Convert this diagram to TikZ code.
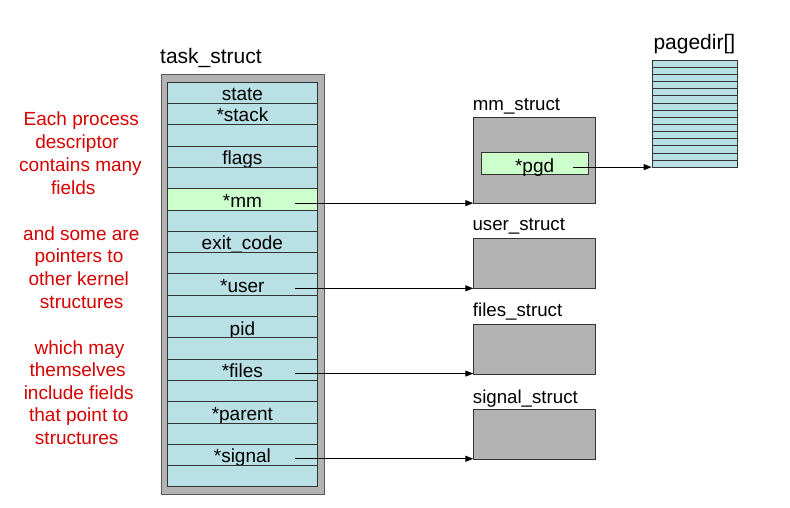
\documentclass[tikz,border=0pt]{standalone}
\usepackage{fontspec}
\setmainfont{Liberation Sans}
\usetikzlibrary{arrows.meta,calc}
\definecolor{rowblue}{RGB}{185,224,228}
\definecolor{boxgray}{RGB}{179,179,179}
\definecolor{fieldgreen}{RGB}{204,255,204}
\definecolor{txtred}{RGB}{214,0,0}
\definecolor{edge}{RGB}{51,51,51}
\begin{document}
\begin{tikzpicture}[x=1pt,y=-1pt,
  rowbox/.style={draw=edge, line width=0.8pt, minimum width=149.4pt, minimum height=21.3pt,
    inner sep=0pt, text height=15.9pt, text depth=0pt, font=\fontsize{19}{22}\selectfont, anchor=north west},
  graybox/.style={draw=edge, line width=0.8pt, fill=boxgray, inner sep=0pt, anchor=north west},
  title/.style={inner sep=0pt, anchor=base west, font=\fontsize{18.7}{22}\selectfont},
  bigtitle/.style={inner sep=0pt, anchor=base west, font=\fontsize{21}{24}\selectfont},
  note/.style={inner sep=0pt, anchor=base, text=txtred, font=\fontsize{19}{22}\selectfont},
  ptr/.style={draw=black, line width=0.9pt, -{Triangle[length=8pt,width=6pt]}}
]
\useasboundingbox (0,0) rectangle (790,508);

% task_struct
\node[bigtitle] (tasklabel) at (160,63.3) {task\_struct};
\node[graybox, draw=black!65, minimum width=163.3pt, minimum height=420pt] (task) at (160.7,74) {};
\foreach \lab/\col [count=\i from 0] in {state/rowblue, *stack/rowblue, /rowblue, flags/rowblue, /rowblue,
  *mm/fieldgreen, /rowblue, exit\_code/rowblue, /rowblue, *user/rowblue, /rowblue, pid/rowblue, /rowblue,
  *files/rowblue, /rowblue, *parent/rowblue, /rowblue, *signal/rowblue, /rowblue}
  \node[rowbox, fill=\col] (r\i) at ({167.3},{81.7+21.3*\i}) {\lab};

% mm_struct
\node[title] (mmlabel) at (472.7,110.7) {mm\_struct};
\node[graybox, minimum width=121.7pt, minimum height=85.7pt] (mm) at (473.3,117) {};
\node[rowbox, fill=fieldgreen, minimum width=107pt, minimum height=22pt, text height=16.8pt] (pgd) at (480.7,152.3) {*pgd};

% other structs
\node[title] (userlabel) at (472.3,230.7) {user\_struct};
\node[graybox, minimum width=121.7pt, minimum height=50pt] (user) at (473.3,238.3) {};
\node[title] (fileslabel) at (472.7,316.7) {files\_struct};
\node[graybox, minimum width=121.7pt, minimum height=50pt] (files) at (473.3,324) {};
\node[title] (signallabel) at (472.7,403.3) {signal\_struct};
\node[graybox, minimum width=121.7pt, minimum height=50pt] (signal) at (473.3,409.3) {};

% pagedir
\node[bigtitle] (pdlabel) at (653.3,50) {pagedir[]};
\node[draw=edge, line width=0.8pt, fill=rowblue, inner sep=0pt, anchor=north west,
  minimum width=85.6pt, minimum height=107.3pt] (pd) at (651.7,60) {};
\foreach \k in {1,...,14}
  \draw[edge, line width=0.8pt] ($(pd.north west)+(0,{7.153*\k})$) -- ($(pd.north east)+(0,{7.153*\k})$);

% pointers
\coordinate (mmS) at ($(r5.center)+(53,3.9)$);
\coordinate (userS) at ($(r9.center)+(53,3.9)$);
\coordinate (filesS) at ($(r13.center)+(53,3.9)$);
\coordinate (signalS) at ($(r17.center)+(53,3.9)$);
\coordinate (pgdS) at ($(pgd.center)+(38.8,3.4)$);
\draw[ptr] (mmS) -- (mmS -| mm.west);
\draw[ptr] (userS) -- (userS -| user.west);
\draw[ptr] (filesS) -- (filesS -| files.west);
\draw[ptr] (signalS) -- (signalS -| signal.west);
\draw[ptr] (pgdS) -- (pgdS -| pd.west);

% red notes
\foreach \t/\cx/\by [count=\j] in {
  Each process/81.3/126, descriptor/77/149, contains many/80.5/171.7, fields/73.3/194,
  and some are/81.3/240, pointers to/79/262.7, other kernel/78.8/285.3, structures/81.7/308,
  which may/79.5/354, themselves/77.7/376.5, include fields/78.7/399, that point to/78.8/421.7, structures/76.7/444}
  \node[note] (n\j) at (\cx,\by) {\t};
\end{tikzpicture}
\end{document}
